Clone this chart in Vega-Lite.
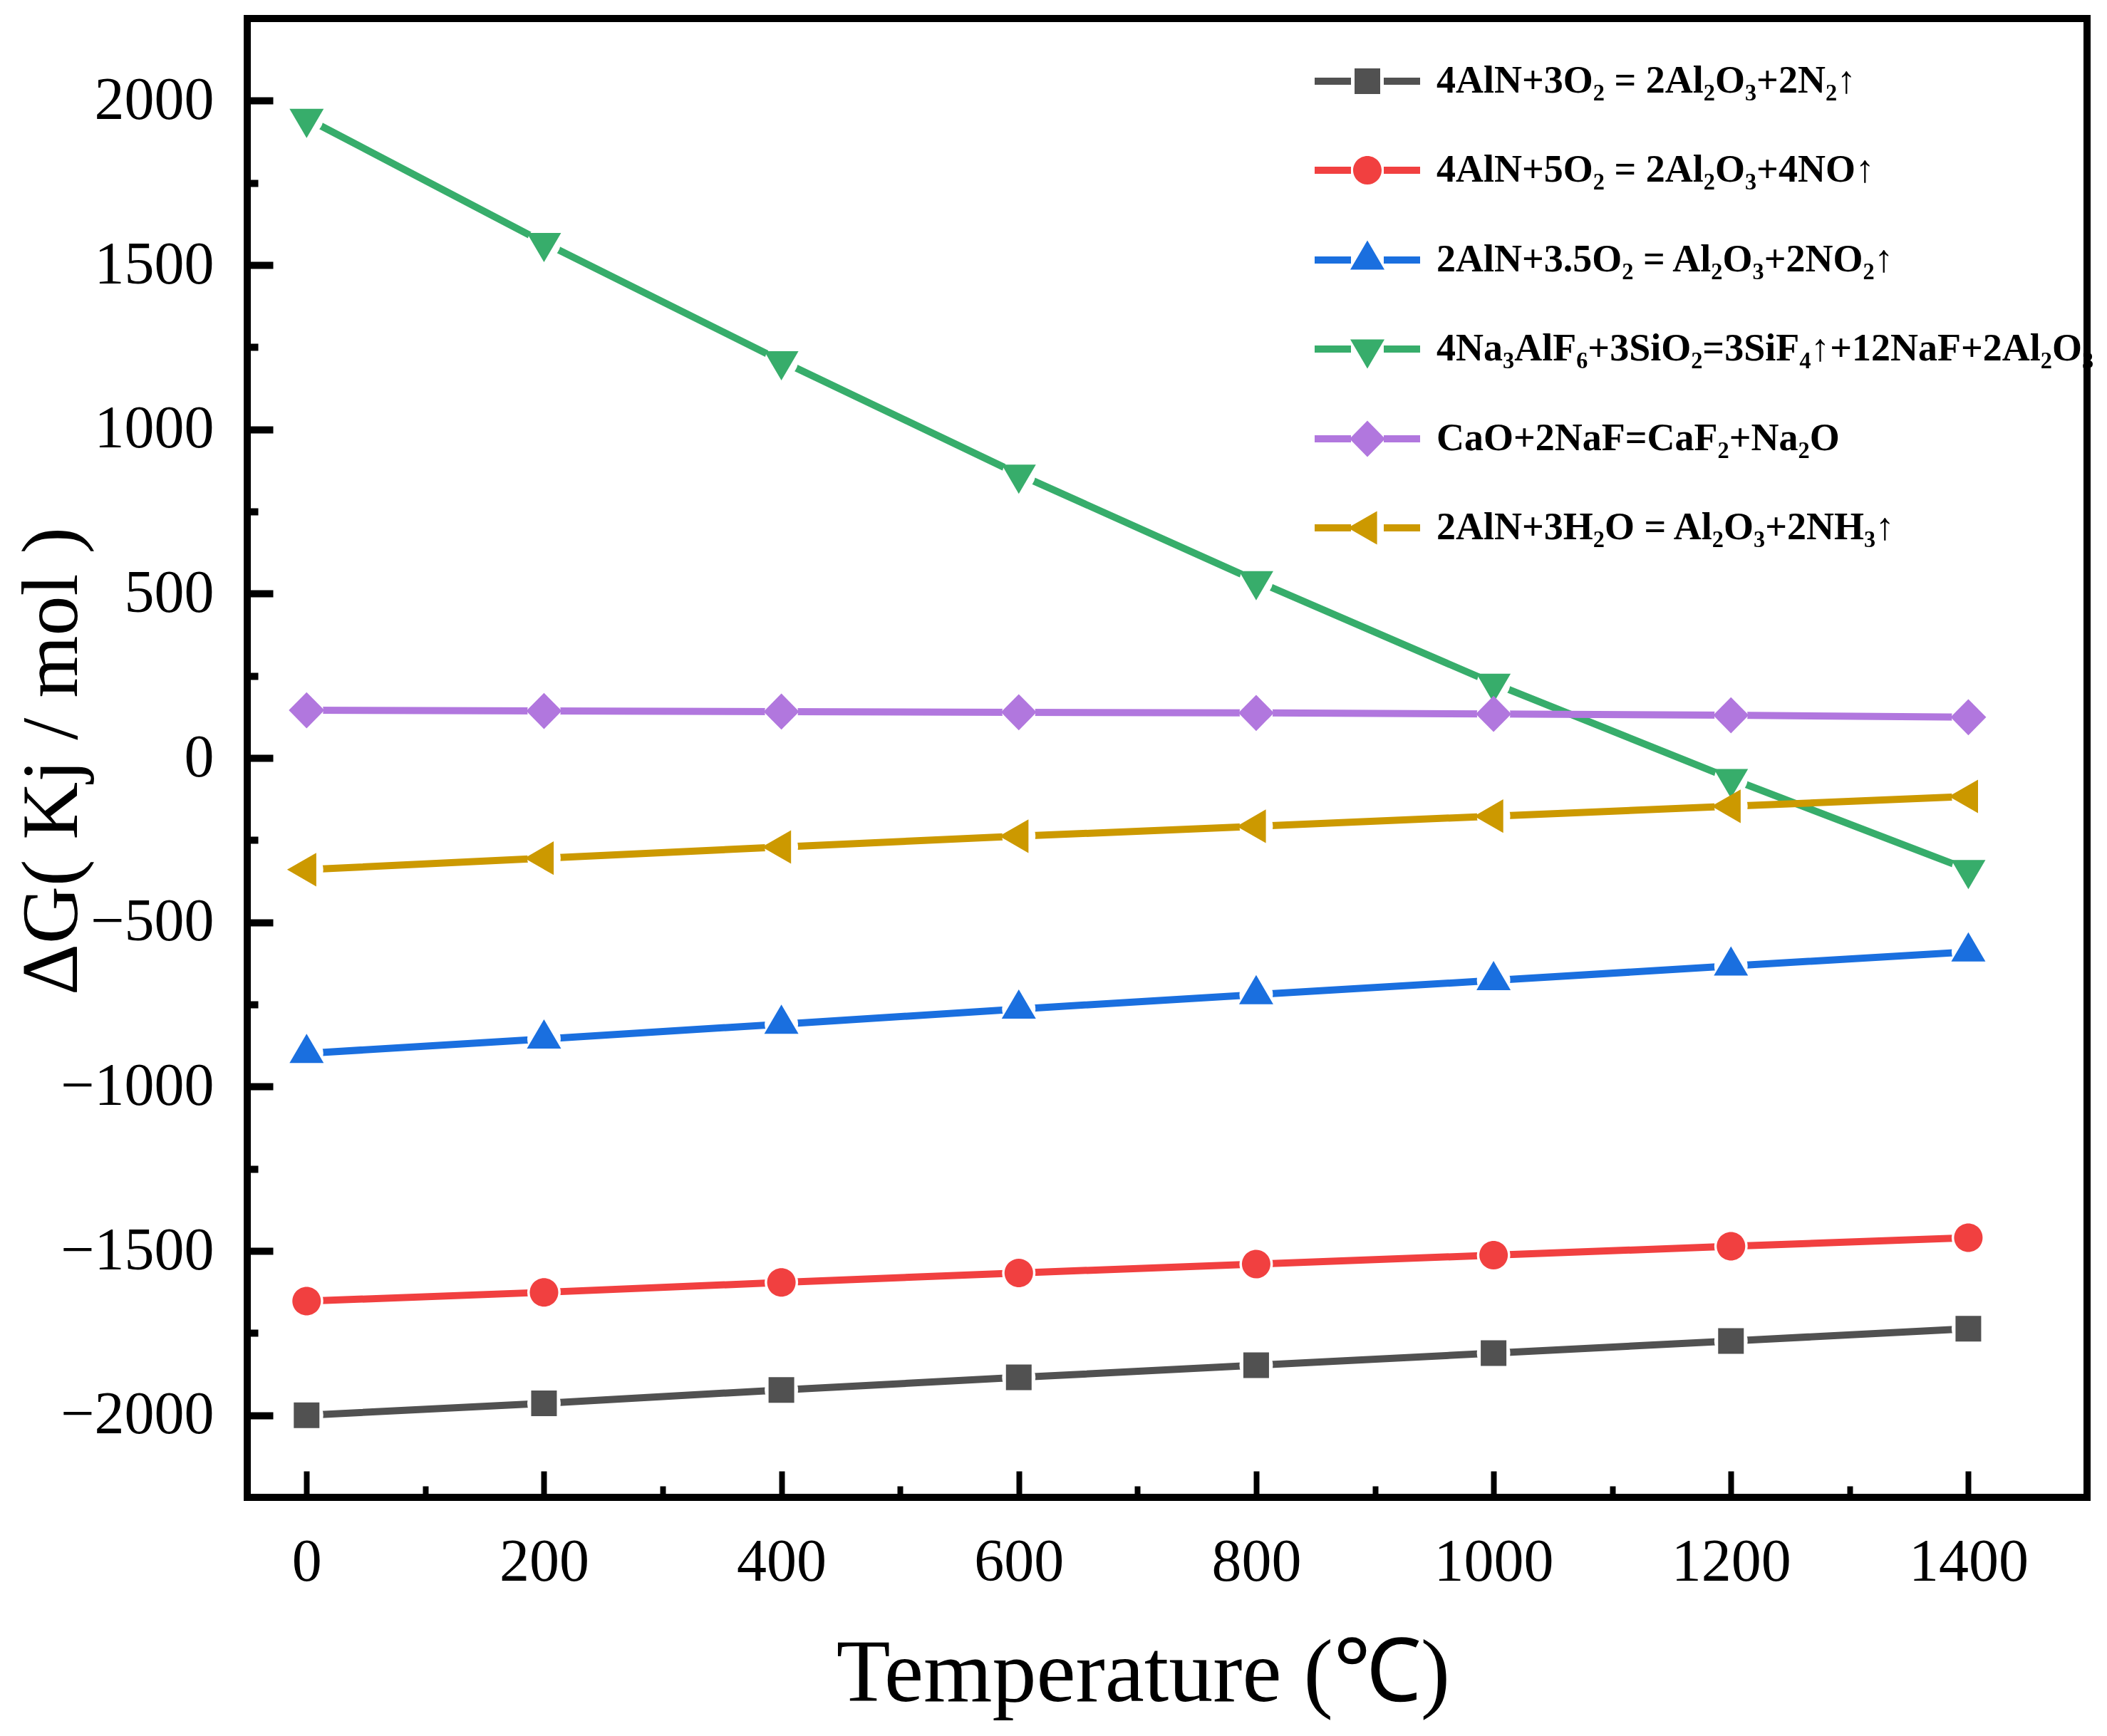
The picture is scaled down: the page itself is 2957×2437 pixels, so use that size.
{
  "$schema": "https://vega.github.io/schema/vega-lite/v6.json",
  "width": 2582,
  "height": 2076,
  "autosize": {"type": "none"},
  "padding": {"left": 347, "top": 26, "right": 28, "bottom": 335},
  "background": "white",
  "config": {
    "view": {"stroke": "black", "strokeWidth": 10},
    "axis": {
      "grid": false,
      "domain": false,
      "tickColor": "black",
      "labelColor": "black",
      "titleColor": "black",
      "labelFont": "Liberation Serif",
      "titleFont": "Liberation Serif",
      "titleFontWeight": "normal",
      "labelLimit": 1000,
      "labelFlush": false
    },
    "legend": {
      "orient": "none",
      "legendX": 1545,
      "legendY": 61,
      "title": null,
      "padding": 0,
      "symbolSize": 1600,
      "symbolStrokeWidth": 0,
      "symbolOpacity": 1,
      "labelFont": "Liberation Serif",
      "labelFontSize": 54,
      "labelFontWeight": "bold",
      "labelColor": "black",
      "labelOffset": 70,
      "labelLimit": 3000,
      "rowPadding": 71
    }
  },
  "data": {
    "values": [
      {"series": "4AlN+3O₂ = 2Al₂O₃+2N₂↑", "T": 0, "G": -2000},
      {"series": "4AlN+3O₂ = 2Al₂O₃+2N₂↑", "T": 200, "G": -1964},
      {"series": "4AlN+3O₂ = 2Al₂O₃+2N₂↑", "T": 400, "G": -1923},
      {"series": "4AlN+3O₂ = 2Al₂O₃+2N₂↑", "T": 600, "G": -1885},
      {"series": "4AlN+3O₂ = 2Al₂O₃+2N₂↑", "T": 800, "G": -1848},
      {"series": "4AlN+3O₂ = 2Al₂O₃+2N₂↑", "T": 1000, "G": -1811},
      {"series": "4AlN+3O₂ = 2Al₂O₃+2N₂↑", "T": 1200, "G": -1774},
      {"series": "4AlN+3O₂ = 2Al₂O₃+2N₂↑", "T": 1400, "G": -1737},
      {"series": "4AlN+5O₂ = 2Al₂O₃+4NO↑", "T": 0, "G": -1653},
      {"series": "4AlN+5O₂ = 2Al₂O₃+4NO↑", "T": 200, "G": -1626},
      {"series": "4AlN+5O₂ = 2Al₂O₃+4NO↑", "T": 400, "G": -1596},
      {"series": "4AlN+5O₂ = 2Al₂O₃+4NO↑", "T": 600, "G": -1567},
      {"series": "4AlN+5O₂ = 2Al₂O₃+4NO↑", "T": 800, "G": -1540},
      {"series": "4AlN+5O₂ = 2Al₂O₃+4NO↑", "T": 1000, "G": -1513},
      {"series": "4AlN+5O₂ = 2Al₂O₃+4NO↑", "T": 1200, "G": -1486},
      {"series": "4AlN+5O₂ = 2Al₂O₃+4NO↑", "T": 1400, "G": -1460},
      {"series": "2AlN+3.5O₂ = Al₂O₃+2NO₂↑", "T": 0, "G": -899},
      {"series": "2AlN+3.5O₂ = Al₂O₃+2NO₂↑", "T": 200, "G": -855},
      {"series": "2AlN+3.5O₂ = Al₂O₃+2NO₂↑", "T": 400, "G": -810},
      {"series": "2AlN+3.5O₂ = Al₂O₃+2NO₂↑", "T": 600, "G": -764},
      {"series": "2AlN+3.5O₂ = Al₂O₃+2NO₂↑", "T": 800, "G": -720},
      {"series": "2AlN+3.5O₂ = Al₂O₃+2NO₂↑", "T": 1000, "G": -677},
      {"series": "2AlN+3.5O₂ = Al₂O₃+2NO₂↑", "T": 1200, "G": -633},
      {"series": "2AlN+3.5O₂ = Al₂O₃+2NO₂↑", "T": 1400, "G": -590},
      {"series": "4Na₃AlF₆+3SiO₂=3SiF₄↑+12NaF+2Al₂O₃", "T": 0, "G": 1946},
      {"series": "4Na₃AlF₆+3SiO₂=3SiF₄↑+12NaF+2Al₂O₃", "T": 200, "G": 1568},
      {"series": "4Na₃AlF₆+3SiO₂=3SiF₄↑+12NaF+2Al₂O₃", "T": 400, "G": 1208},
      {"series": "4Na₃AlF₆+3SiO₂=3SiF₄↑+12NaF+2Al₂O₃", "T": 600, "G": 863},
      {"series": "4Na₃AlF₆+3SiO₂=3SiF₄↑+12NaF+2Al₂O₃", "T": 800, "G": 539},
      {"series": "4Na₃AlF₆+3SiO₂=3SiF₄↑+12NaF+2Al₂O₃", "T": 1000, "G": 227},
      {"series": "4Na₃AlF₆+3SiO₂=3SiF₄↑+12NaF+2Al₂O₃", "T": 1200, "G": -63},
      {"series": "4Na₃AlF₆+3SiO₂=3SiF₄↑+12NaF+2Al₂O₃", "T": 1400, "G": -340},
      {"series": "CaO+2NaF=CaF₂+Na₂O", "T": 0, "G": 145},
      {"series": "CaO+2NaF=CaF₂+Na₂O", "T": 200, "G": 143},
      {"series": "CaO+2NaF=CaF₂+Na₂O", "T": 400, "G": 141},
      {"series": "CaO+2NaF=CaF₂+Na₂O", "T": 600, "G": 139},
      {"series": "CaO+2NaF=CaF₂+Na₂O", "T": 800, "G": 137},
      {"series": "CaO+2NaF=CaF₂+Na₂O", "T": 1000, "G": 134},
      {"series": "CaO+2NaF=CaF₂+Na₂O", "T": 1200, "G": 130},
      {"series": "CaO+2NaF=CaF₂+Na₂O", "T": 1400, "G": 124},
      {"series": "2AlN+3H₂O = Al₂O₃+2NH₃↑", "T": 0, "G": -340},
      {"series": "2AlN+3H₂O = Al₂O₃+2NH₃↑", "T": 200, "G": -305},
      {"series": "2AlN+3H₂O = Al₂O₃+2NH₃↑", "T": 400, "G": -271},
      {"series": "2AlN+3H₂O = Al₂O₃+2NH₃↑", "T": 600, "G": -238},
      {"series": "2AlN+3H₂O = Al₂O₃+2NH₃↑", "T": 800, "G": -208},
      {"series": "2AlN+3H₂O = Al₂O₃+2NH₃↑", "T": 1000, "G": -177},
      {"series": "2AlN+3H₂O = Al₂O₃+2NH₃↑", "T": 1200, "G": -147},
      {"series": "2AlN+3H₂O = Al₂O₃+2NH₃↑", "T": 1400, "G": -117}
    ]
  },
  "resolve": {"axis": {"x": "independent", "y": "independent"}},
  "layer": [
    {
      "mark": {"type": "line", "strokeWidth": 10, "strokeCap": "round", "strokeJoin": "round"},
      "encoding": {
        "x": {
          "field": "T",
          "type": "quantitative",
          "scale": {"domain": [-50, 1500], "nice": false, "zero": false},
          "axis": {
            "orient": "bottom",
            "values": [0, 200, 400, 600, 800, 1000, 1200, 1400],
            "format": "d",
            "tickSize": -37,
            "tickWidth": 8,
            "labelFontSize": 84,
            "labelPadding": 87,
            "title": "Temperature (℃)",
            "titleFontSize": 124,
            "titleX": 1257,
            "titleY": 285,
            "titleAlign": "center",
            "titleBaseline": "alphabetic"
          }
        },
        "y": {
          "field": "G",
          "type": "quantitative",
          "scale": {"domain": [-2250, 2250], "nice": false, "zero": false},
          "axis": {
            "orient": "left",
            "values": [-2000, -1500, -1000, -500, 0, 500, 1000, 1500, 2000],
            "format": "d",
            "tickSize": -36,
            "tickWidth": 10,
            "labelFontSize": 84,
            "labelPadding": 83,
            "title": "ΔG( Kj / mol )",
            "titleFontSize": 112,
            "titleAngle": 270,
            "titleX": -240,
            "titleY": 1042,
            "titleAlign": "center",
            "titleBaseline": "alphabetic"
          }
        },
        "color": {"field": "series", "type": "nominal"}
      }
    },
    {
      "mark": {"type": "point", "shape": "circle", "filled": true, "size": 2200, "opacity": 1},
      "encoding": {
        "x": {
          "field": "T",
          "type": "quantitative",
          "axis": {
            "orient": "bottom",
            "values": [100, 300, 500, 700, 900, 1100, 1300],
            "labels": false,
            "tickSize": -16,
            "tickWidth": 8,
            "title": null
          }
        },
        "y": {
          "field": "G",
          "type": "quantitative",
          "axis": {
            "orient": "left",
            "values": [-1750, -1250, -750, -250, 250, 750, 1250, 1750],
            "labels": false,
            "tickSize": -15,
            "tickWidth": 10,
            "title": null
          }
        },
        "color": {"value": "white"}
      }
    },
    {
      "mark": {"type": "point", "filled": true, "size": 1600, "opacity": 1},
      "encoding": {
        "x": {"field": "T", "type": "quantitative", "axis": null},
        "y": {"field": "G", "type": "quantitative", "axis": null},
        "color": {"field": "series", "type": "nominal"},
        "shape": {
          "condition": [
            {"test": "datum.series === '4AlN+3O₂ = 2Al₂O₃+2N₂↑'", "value": "M-0.9,-0.9L0.9,-0.9L0.9,0.9L-0.9,0.9Z"},
            {"test": "datum.series === '4AlN+5O₂ = 2Al₂O₃+4NO↑'", "value": "M-1,0A1,1,0,1,0,1,0A1,1,0,1,0,-1,0Z"},
            {"test": "datum.series === '2AlN+3.5O₂ = Al₂O₃+2NO₂↑'", "value": "M0,-1.37L1.2,0.68L-1.2,0.68Z"},
            {"test": "datum.series === '4Na₃AlF₆+3SiO₂=3SiF₄↑+12NaF+2Al₂O₃'", "value": "M0,1.37L1.2,-0.68L-1.2,-0.68Z"},
            {"test": "datum.series === 'CaO+2NaF=CaF₂+Na₂O'", "value": "M0,-1.27L1.25,0L0,1.27L-1.25,0Z"}
          ],
          "value": "M-1.37,0L0.68,-1.18L0.68,1.18Z"
        }
      }
    },
    {
      "transform": [{"filter": "false"}],
      "mark": {"type": "point", "filled": true, "size": 1600, "opacity": 1},
      "encoding": {
        "x": {"field": "T", "type": "quantitative", "axis": null},
        "y": {"field": "G", "type": "quantitative", "axis": null},
        "color": {
          "field": "series",
          "type": "nominal",
          "scale": {
            "domain": [
              "4AlN+3O₂ = 2Al₂O₃+2N₂↑",
              "4AlN+5O₂ = 2Al₂O₃+4NO↑",
              "2AlN+3.5O₂ = Al₂O₃+2NO₂↑",
              "4Na₃AlF₆+3SiO₂=3SiF₄↑+12NaF+2Al₂O₃",
              "CaO+2NaF=CaF₂+Na₂O",
              "2AlN+3H₂O = Al₂O₃+2NH₃↑"
            ],
            "range": ["#515151", "#F14040", "#1A6FDF", "#37AD6B", "#B177DE", "#CC9900"]
          }
        },
        "shape": {
          "field": "series",
          "type": "nominal",
          "scale": {
            "domain": [
              "4AlN+3O₂ = 2Al₂O₃+2N₂↑",
              "4AlN+5O₂ = 2Al₂O₃+4NO↑",
              "2AlN+3.5O₂ = Al₂O₃+2NO₂↑",
              "4Na₃AlF₆+3SiO₂=3SiF₄↑+12NaF+2Al₂O₃",
              "CaO+2NaF=CaF₂+Na₂O",
              "2AlN+3H₂O = Al₂O₃+2NH₃↑"
            ],
            "range": [
              "M-3.7,-0.25L-1.15,-0.25L-1.15,0.25L-3.7,0.25Z M1.15,-0.25L3.7,-0.25L3.7,0.25L1.15,0.25Z M-0.9,-0.9L0.9,-0.9L0.9,0.9L-0.9,0.9Z",
              "M-3.7,-0.25L-1.15,-0.25L-1.15,0.25L-3.7,0.25Z M1.15,-0.25L3.7,-0.25L3.7,0.25L1.15,0.25Z M-1,0A1,1,0,1,0,1,0A1,1,0,1,0,-1,0Z",
              "M-3.7,-0.25L-1.15,-0.25L-1.15,0.25L-3.7,0.25Z M1.15,-0.25L3.7,-0.25L3.7,0.25L1.15,0.25Z M0,-1.37L1.2,0.68L-1.2,0.68Z",
              "M-3.7,-0.25L-1.15,-0.25L-1.15,0.25L-3.7,0.25Z M1.15,-0.25L3.7,-0.25L3.7,0.25L1.15,0.25Z M0,1.37L1.2,-0.68L-1.2,-0.68Z",
              "M-3.7,-0.25L-1.15,-0.25L-1.15,0.25L-3.7,0.25Z M1.15,-0.25L3.7,-0.25L3.7,0.25L1.15,0.25Z M0,-1.27L1.25,0L0,1.27L-1.25,0Z",
              "M-3.7,-0.25L-1.15,-0.25L-1.15,0.25L-3.7,0.25Z M1.15,-0.25L3.7,-0.25L3.7,0.25L1.15,0.25Z M-1.37,0L0.68,-1.18L0.68,1.18Z"
            ]
          }
        }
      }
    }
  ]
}
